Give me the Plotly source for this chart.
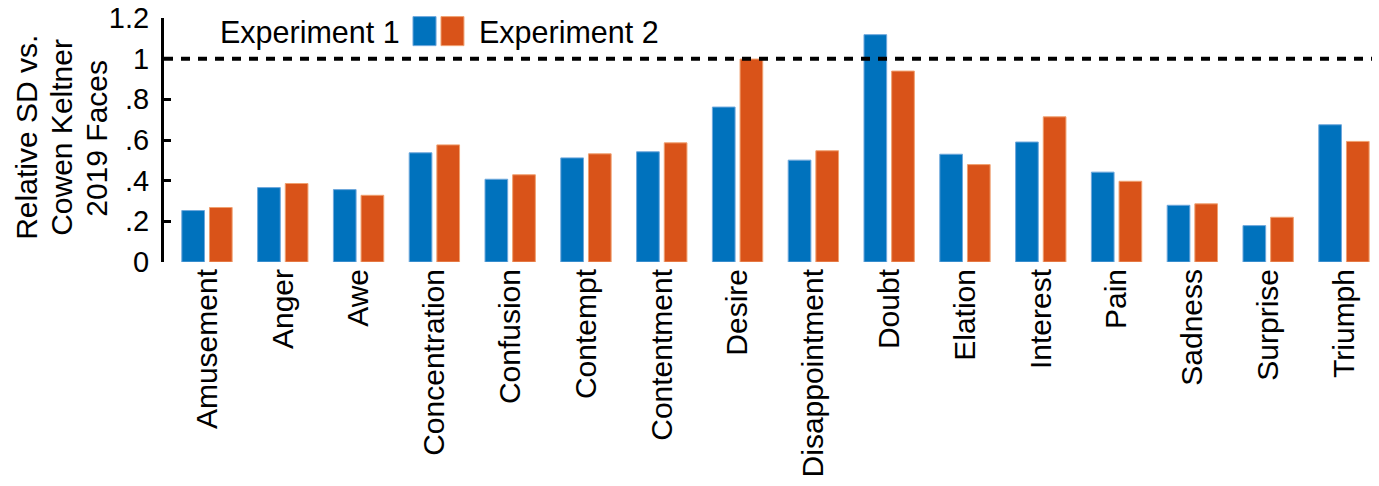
import plotly.graph_objects as go

categories = ["Amusement", "Anger", "Awe", "Concentration", "Confusion", "Contempt",
              "Contentment", "Desire", "Disappointment", "Doubt", "Elation", "Interest",
              "Pain", "Sadness", "Surprise", "Triumph"]
exp1 = [0.253, 0.366, 0.356, 0.537, 0.407, 0.512, 0.542, 0.762, 0.501, 1.118,
        0.530, 0.590, 0.442, 0.279, 0.179, 0.675]
exp2 = [0.268, 0.386, 0.328, 0.576, 0.429, 0.532, 0.586, 0.998, 0.547, 0.939,
        0.479, 0.714, 0.397, 0.286, 0.220, 0.593]
ytick_vals = [0, 0.2, 0.4, 0.6, 0.8, 1.0, 1.2]
ytick_text = ["0", ".2", ".4", ".6", ".8", "1", "1.2"]
series_names = ["Experiment 1", "Experiment 2"]
ytitle_lines = ["Relative SD vs.", "Cowen Keltner", "2019 Faces"]
BLUE = "#0072BD"
ORANGE = "#D95319"
FONT = "Liberation Sans, Arial, sans-serif"

fig = go.Figure()
fig.add_trace(go.Bar(x=categories, y=exp1, name=series_names[0], marker_color=BLUE,
                     marker_line=dict(color="#6fa8dc", width=1)))
fig.add_trace(go.Bar(x=categories, y=exp2, name=series_names[1], marker_color=ORANGE,
                     marker_line=dict(color="#f0a070", width=1)))

# reference line at 1
fig.add_shape(type="line", xref="paper", yref="y", x0=0, x1=1, y0=1, y1=1,
              line=dict(color="black", width=4, dash="9px,8px"))

# custom legend (text left of swatches for Exp 1, right for Exp 2)
fig.add_shape(type="rect", xref="paper", yref="paper", x0=0.2061, x1=0.2252,
              y0=0.8867, y1=1.0057, fillcolor=BLUE, line=dict(color="#6fa8dc", width=1))
fig.add_shape(type="rect", xref="paper", yref="paper", x0=0.2293, x1=0.2483,
              y0=0.8867, y1=1.0057, fillcolor=ORANGE, line=dict(color="#f0a070", width=1))
fig.add_annotation(text=series_names[0], xref="paper", yref="paper", x=0.197, y=0.94,
                   xanchor="right", yanchor="middle", showarrow=False,
                   font=dict(size=30.5, color="black", family=FONT))
fig.add_annotation(text=series_names[1], xref="paper", yref="paper", x=0.2591, y=0.94,
                   xanchor="left", yanchor="middle", showarrow=False,
                   font=dict(size=30.5, color="black", family=FONT))

# y axis title, one line per annotation
for xp, line in zip([-0.1134, -0.0844, -0.0555], ytitle_lines):
    fig.add_annotation(text=line, xref="paper", yref="paper", x=xp, y=0.509,
                       xanchor="center", yanchor="middle", textangle=-90,
                       showarrow=False, font=dict(size=30, color="black", family=FONT))

fig.update_layout(
    width=1379, height=486,
    margin=dict(l=164, r=7, t=18, b=224, autoexpand=False),
    paper_bgcolor="white", plot_bgcolor="white",
    barmode="group", bargap=0.27, bargroupgap=0.18,
    showlegend=False,
    font=dict(family=FONT, color="black", size=30),
    xaxis=dict(range=[-0.567, 15.37], showline=False, showgrid=False, zeroline=False,
               ticks="", tickangle=-90, ticklabelstandoff=0, automargin=False,
               ticklabeloverflow="allow",
               tickfont=dict(size=30, color="black", family=FONT)),
    yaxis=dict(range=[0, 1.2], showline=True, linecolor="black", linewidth=3,
               showgrid=False, zeroline=False, ticks="inside", ticklen=7, tickwidth=3,
               tickcolor="black", tickvals=ytick_vals, ticktext=ytick_text,
               ticklabelstandoff=6, automargin=False, ticklabeloverflow="allow",
               tickfont=dict(size=29, color="black", family=FONT)),
)

fig.write_html("out.html", config={"displayModeBar": False},
               post_script="document.body.style.margin='0px';document.body.style.overflow='hidden';")
